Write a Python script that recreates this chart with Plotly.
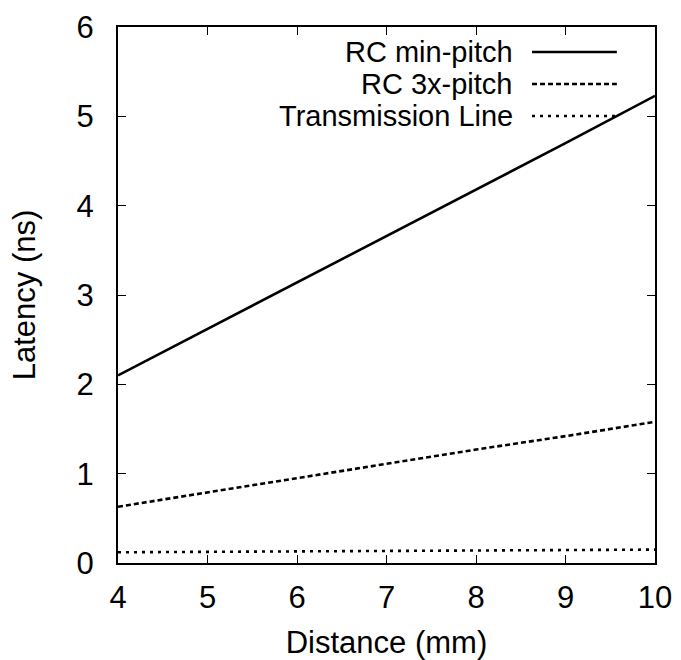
import plotly.graph_objects as go

distance = [4, 5, 6, 7, 8, 9, 10]
rc_min_pitch = [2.10, 2.62, 3.14, 3.66, 4.18, 4.70, 5.23]
rc_3x_pitch = [0.63, 0.79, 0.95, 1.11, 1.27, 1.42, 1.58]
transmission_line = [0.12, 0.125, 0.13, 0.135, 0.14, 0.145, 0.15]

series_names = ["RC min-pitch", "RC 3x-pitch", "Transmission Line"]
series_vals = [rc_min_pitch, rc_3x_pitch, transmission_line]
dashes = ["solid", "5px,3px", "3px,5px"]

FONT = "Liberation Sans, Arial, Helvetica, sans-serif"

fig = go.Figure()
for name, vals, d in zip(series_names, series_vals, dashes):
    fig.add_trace(go.Scatter(x=distance, y=vals, mode="lines", name=name,
                             line=dict(color="black", width=2.6, dash=d),
                             showlegend=False))

# legend drawn manually: right-aligned text with line sample to the right
leg_y = [0.9534, 0.8937, 0.834]
for name, d, yy in zip(series_names, dashes, leg_y):
    fig.add_annotation(x=0.738, y=yy, xref="paper", yref="paper", text=name,
                       showarrow=False, xanchor="right", yanchor="middle",
                       borderpad=0,
                       font=dict(family=FONT, size=29, color="black"))
    fig.add_shape(type="line", xref="paper", yref="paper",
                  x0=0.771, x1=0.929, y0=yy, y1=yy,
                  line=dict(color="black", width=2.6, dash=d))

fig.update_layout(
    width=681, height=660,
    margin=dict(l=118, r=26, t=27, b=97),
    paper_bgcolor="white", plot_bgcolor="white",
    font=dict(family=FONT, size=30, color="black"),
)
fig.update_xaxes(range=[4, 10], tickvals=[4, 5, 6, 7, 8, 9, 10],
                 ticks="inside", ticklen=8, tickwidth=1.3, tickcolor="black",
                 showline=True, linecolor="black", linewidth=2, mirror="ticks",
                 showgrid=False, zeroline=False, automargin=False,
                 tickfont=dict(family=FONT, size=31, color="black"),
                 title=dict(text="Distance (mm)", standoff=26,
                            font=dict(family=FONT, size=31, color="black")),
                 ticklabelstandoff=6)
fig.update_yaxes(range=[0, 6], tickvals=[0, 1, 2, 3, 4, 5, 6],
                 ticks="inside", ticklen=8, tickwidth=1.3, tickcolor="black",
                 showline=True, linecolor="black", linewidth=2, mirror="ticks",
                 showgrid=False, zeroline=False, automargin=False,
                 tickfont=dict(family=FONT, size=31, color="black"),
                 title=dict(text="Latency (ns)", standoff=32,
                            font=dict(family=FONT, size=31, color="black")),
                 ticklabelstandoff=16)

fig.write_html("out.html")
